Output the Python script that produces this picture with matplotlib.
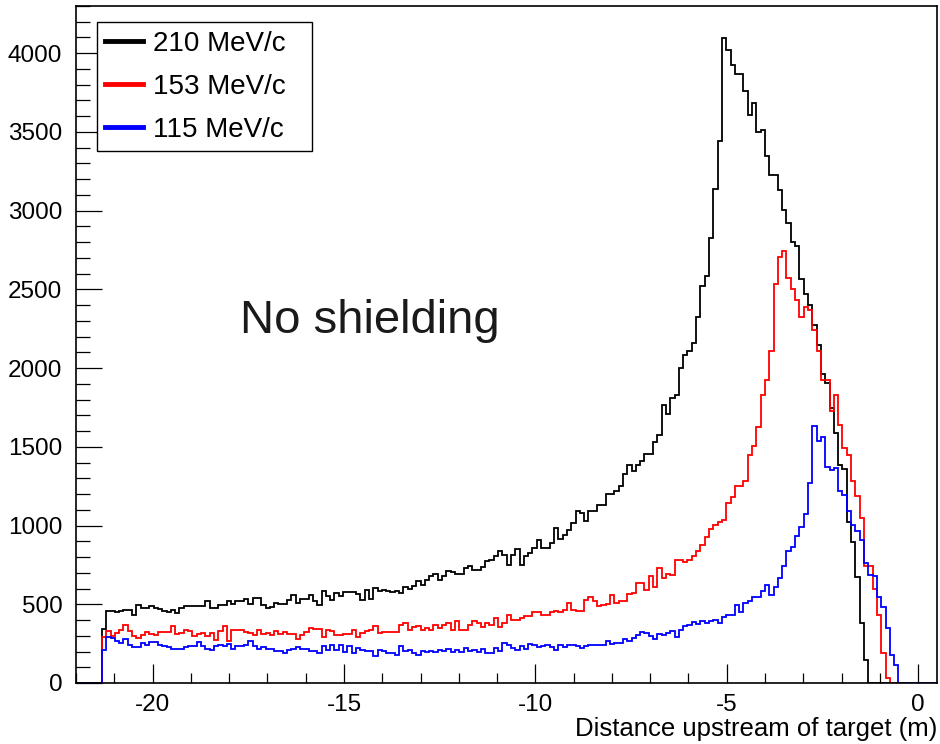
import numpy as np
import matplotlib
matplotlib.use('Agg')
import matplotlib.pyplot as plt
from matplotlib.lines import Line2D

plt.rcParams['font.family'] = ['Liberation Sans', 'DejaVu Sans']

# histogram binning: 200 bins from -22 to 0.5 m, first filled bin is number 6
x_lo, x_hi, n_bins = -22.0, 0.5, 200
first_bin = 6

labels = ['210 MeV/c', '153 MeV/c', '115 MeV/c']
colors = ['black', 'red', 'blue']

counts_210 = [
    340, 460, 460, 452, 455, 462, 466, 434, 498, 476, 476, 490, 476, 468, 458, 451,
    466, 445, 476, 487, 487, 487, 490, 487, 519, 476, 476, 498, 498, 523, 502, 523,
    519, 536, 502, 540, 540, 498, 476, 480, 508, 502, 502, 529, 561, 508, 536, 536,
    561, 520, 497, 582, 550, 529, 572, 550, 576, 576, 576, 565, 529, 593, 536, 603,
    582, 590, 582, 580, 582, 572, 610, 600, 614, 646, 620, 656, 682, 692, 656, 680,
    709, 703, 690, 690, 730, 740, 720, 718, 735, 773, 783, 805, 836, 815, 752, 815,
    853, 752, 805, 826, 858, 911, 858, 858, 889, 985, 915, 942, 974, 1016, 1091, 1080,
    1027, 1095, 1095, 1129, 1129, 1203, 1203, 1222, 1249, 1330, 1383, 1345, 1383, 1408,
    1455, 1455, 1529, 1578, 1764, 1709, 1811, 1826, 2001, 2086, 2111, 2160, 2323, 2520,
    2583, 2827, 3140, 3441, 4098, 4019, 3928, 3865, 3865, 3759, 3606, 3685, 3500, 3509,
    3346, 3225, 3225, 3128, 3007, 2922, 2801, 2774, 2566, 2471, 2399, 2272, 2145, 1963,
    1906, 1747, 1588, 1387, 1361, 1023, 895, 673, 381, 148,
]

counts_153 = [
    290, 332, 296, 318, 339, 371, 328, 296, 286, 303, 324, 311, 307, 324, 324, 324,
    360, 311, 318, 339, 328, 296, 311, 318, 296, 318, 271, 328, 360, 265, 339, 339,
    339, 324, 318, 307, 339, 311, 318, 303, 332, 311, 324, 311, 311, 282, 307, 324,
    349, 345, 345, 290, 339, 328, 307, 303, 311, 311, 339, 290, 317, 328, 339, 360,
    317, 324, 324, 324, 324, 366, 381, 339, 353, 360, 339, 349, 339, 370, 349, 366,
    381, 339, 396, 339, 339, 370, 392, 381, 353, 381, 370, 413, 353, 381, 430, 402,
    402, 413, 423, 423, 451, 451, 434, 434, 451, 459, 451, 466, 508, 466, 459, 459,
    529, 544, 519, 487, 498, 502, 557, 508, 523, 523, 565, 572, 635, 635, 593, 678,
    608, 731, 667, 695, 688, 784, 784, 769, 784, 805, 836, 875, 925, 980, 1001, 1023,
    1038, 1144, 1179, 1249, 1249, 1285, 1446, 1503, 1624, 1827, 1927, 2111, 2535, 2704,
    2742, 2573, 2505, 2435, 2323, 2387, 2370, 2245, 2110, 1927, 1927, 1726, 1832, 1641,
    1493, 1450, 1285, 1186, 1046, 745, 740, 600, 434, 190, 31,
]

counts_115 = [
    212, 290, 286, 265, 254, 282, 243, 227, 227, 254, 243, 260, 260, 239, 233, 227,
    218, 218, 218, 227, 233, 233, 260, 233, 218, 212, 233, 243, 233, 248, 218, 233,
    233, 243, 265, 233, 218, 227, 218, 218, 205, 205, 191, 212, 218, 227, 218, 218,
    205, 205, 190, 233, 212, 239, 212, 243, 197, 233, 190, 222, 212, 201, 205, 169,
    212, 201, 190, 190, 176, 233, 201, 212, 190, 180, 201, 197, 205, 197, 212, 201,
    218, 197, 212, 197, 222, 205, 212, 197, 218, 190, 190, 222, 201, 254, 243, 222,
    212, 233, 218, 248, 243, 226, 233, 243, 226, 212, 243, 226, 239, 243, 233, 222,
    233, 243, 243, 243, 243, 265, 248, 254, 254, 282, 265, 286, 303, 324, 318, 296,
    282, 311, 307, 318, 328, 290, 339, 360, 370, 387, 375, 392, 381, 392, 402, 381,
    420, 434, 434, 497, 451, 505, 518, 546, 546, 586, 620, 561, 607, 667, 741, 836,
    861, 931, 989, 1073, 1270, 1630, 1539, 1560, 1370, 1355, 1366, 1222, 1192, 1090,
    1001, 967, 910, 762, 688, 680, 544, 480, 349, 180, 116,
]


def full_hist(counts):
    h = np.zeros(n_bins)
    h[first_bin:first_bin + len(counts)] = counts
    return h


edges = np.linspace(x_lo, x_hi, n_bins + 1)

fig = plt.figure(figsize=(9.4, 7.44), dpi=100)
ax = fig.add_axes([0.081, 0.082, 0.916, 0.910])

for counts, c in zip([counts_210, counts_153, counts_115], colors):
    ax.stairs(full_hist(counts), edges, color=c, lw=1.3, baseline=0)

ax.set_xlim(x_lo, x_hi)
ax.set_ylim(0, 4300)
ax.set_xticks([-20, -15, -10, -5, 0])
ax.set_xticklabels(['-20', '-15', '-10', '-5', '0'])
ax.set_yticks(np.arange(0, 4001, 500))
ax.xaxis.set_minor_locator(matplotlib.ticker.MultipleLocator(1))
ax.yaxis.set_minor_locator(matplotlib.ticker.MultipleLocator(100))

ax.tick_params(axis='both', which='both', direction='in', top=False, right=False,
               labelsize=17.5, width=0.9, colors='black')
ax.tick_params(axis='x', which='major', length=14, pad=8)
ax.tick_params(axis='x', which='minor', length=7)
ax.tick_params(axis='y', which='major', length=19, pad=10)
ax.tick_params(axis='y', which='minor', length=10)
for s in ax.spines.values():
    s.set_linewidth(1.2)

ax.set_xlabel('Distance upstream of target (m)', fontsize=18.5, loc='right', labelpad=1)

ax.text(-17.73, 2300, 'No shielding', fontsize=34, ha='left', va='center', color='#1a1a1a')

handles = [Line2D([], [], color=c, lw=3.5) for c in colors]
leg = ax.legend(handles, labels, loc='upper left',
                bbox_to_anchor=(0.0244, 0.789, 0.2495, 0.187), mode='expand',
                fontsize=20, frameon=True, fancybox=False, edgecolor='black',
                framealpha=1, handlelength=1.35, handletextpad=0.35, borderpad=0.3,
                labelspacing=0.62, borderaxespad=0)
leg.get_frame().set_linewidth(1.0)

fig.savefig('out.png', dpi=100)
